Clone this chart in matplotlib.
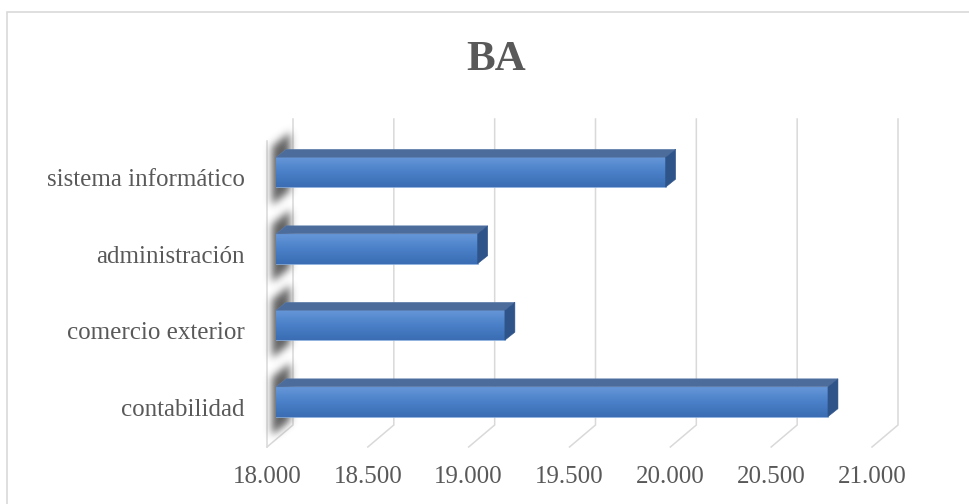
import numpy as np
import matplotlib
matplotlib.use("Agg")
import matplotlib.pyplot as plt
from matplotlib.patches import Polygon, Rectangle
from matplotlib.colors import LinearSegmentedColormap

# data (bottom to top)
categories = ["contabilidad", "comercio exterior", "administración", "sistema informático"]
values = [20737, 19135, 19000, 19932]
x_ticks = [18000, 18500, 19000, 19500, 20000, 20500, 21000]
title = "BA"

W, H = 970, 504
fig = plt.figure(figsize=(W / 100, H / 100), dpi=100)
plt.rcParams['font.family'] = ['Liberation Serif', 'DejaVu Serif']
text_col = '#595959'
grid_col = '#d9d9d9'

# axes = plane of the bar front faces
ax_l, ax_r, ax_top, ax_bot = 276, 881, 134, 440
ax = fig.add_axes([ax_l / W, (H - ax_bot) / H, (ax_r - ax_l) / W, (ax_bot - ax_top) / H])
xmin, xmax = x_ticks[0], x_ticks[-1]
ax.set_xlim(xmin, xmax)
ax.set_ylim(-0.5, len(categories) - 0.5)
ax.axis('off')

# pixel -> data unit helpers
px_x = (xmax - xmin) / (ax_r - ax_l)
px_y = len(categories) / (ax_bot - ax_top)

def off(x, y, dx, dy):
    # dx, dy in pixels (dy up)
    return (x + dx * px_x, y + dy * px_y)

back = (17, 15)    # back wall relative to bar plane
front = (-9, -7)   # front edge of floor
depth = (10, 8)    # bar depth

floor_y = -0.5
top_y = len(categories) - 0.5

# back wall gridlines + floor lines
for xt in x_ticks:
    p_top = off(xt, top_y, *back)
    p_bot = off(xt, floor_y, *back)
    p_front = off(xt, floor_y, *front)
    ax.plot([p_top[0], p_bot[0], p_front[0]], [p_top[1], p_bot[1], p_front[1]],
            color=grid_col, lw=1.1, clip_on=False, zorder=1, solid_joinstyle='miter')

# left wall front edge
p1 = off(xmin, top_y, *front)
p2 = off(xmin, floor_y, *front)
ax.plot([p1[0], p2[0]], [p1[1], p2[1]], color=grid_col, lw=1.1, clip_on=False, zorder=1)

bar_h = 0.39
bar_px = bar_h / px_y
pos = np.arange(len(categories))
bars = ax.barh(pos, [v - xmin for v in values], left=xmin, height=bar_h,
               color='#4a7fc4', edgecolor='#8cb0de', linewidth=0.5, zorder=4)

cmap = LinearSegmentedColormap.from_list('face', ['#6596d8', '#4a80c8', '#3a6db3'])
grad = np.linspace(0, 1, 64).reshape(-1, 1)

# blurred shadow of the bar end on the left wall
def blur(a, sigma):
    r = int(3 * sigma)
    k = np.exp(-0.5 * (np.arange(-r, r + 1) / sigma) ** 2)
    k /= k.sum()
    a = np.apply_along_axis(lambda m: np.convolve(m, k, mode='same'), 0, a)
    a = np.apply_along_axis(lambda m: np.convolve(m, k, mode='same'), 1, a)
    return a

gx = np.arange(-24, 36) + 0.5
gy = np.arange(-36, int(bar_px) + 50) + 0.5
GX, GY = np.meshgrid(gx, gy)
mask = ((GX >= -4) & (GX <= 14) &
        (GY >= -15 + 0.8 * GX) & (GY <= bar_px + 13 + 0.8 * GX)).astype(float)
sh_alpha = blur(mask, 4.0)
sh_alpha = np.clip(sh_alpha / sh_alpha.max() * 0.85, 0, 1)
shadow = np.zeros(mask.shape + (4,))
shadow[..., :3] = 0.28
shadow[..., 3] = sh_alpha[::-1]

for i, (b, v) in enumerate(zip(bars, values)):
    y0, y1 = pos[i] - bar_h / 2, pos[i] + bar_h / 2

    e0 = off(xmin, y0, gx[0] - 0.5, gy[0] - 0.5)
    e1 = off(xmin, y0, gx[-1] + 0.5, gy[-1] + 0.5)
    ax.imshow(shadow, aspect='auto', origin='upper', interpolation='bilinear',
              extent=(e0[0], e1[0], e0[1], e1[1]), zorder=2, clip_on=False)

    im = ax.imshow(grad, cmap=cmap, aspect='auto', origin='upper',
                   extent=(xmin, v, y0, y1), zorder=4.5)
    im.set_clip_path(b)

    # top face
    top = [(xmin, y1), (v, y1), off(v, y1, *depth), off(xmin, y1, *depth)]
    ax.add_patch(Polygon(top, closed=True, facecolor='#4c6c9c', edgecolor='#5b7bab',
                         linewidth=0.4, clip_on=False, zorder=5))
    # side face
    side = [(v, y0), (v, y1), off(v, y1, *depth), off(v, y0, *depth)]
    ax.add_patch(Polygon(side, closed=True, facecolor='#2f548a', edgecolor='#2f548a',
                         linewidth=0.4, clip_on=False, zorder=5))

ax.set_xlim(xmin, xmax)
ax.set_ylim(-0.5, len(categories) - 0.5)

# category labels (front plane)
for i, c in enumerate(categories):
    px, py = off(xmin, pos[i], -31, -8)
    ax.text(px, py, c, ha='right', va='center', fontsize=18, color=text_col, clip_on=False)

# x tick labels along front floor edge
for xt in x_ticks:
    px, py = off(xt, floor_y, *front)
    lbl = f"{xt:,.0f}".replace(",", ".")
    ax.text(px, py - 30 * px_y, lbl, ha='center', va='center', fontsize=18,
            color=text_col, clip_on=False)

fig.text(496 / W, (H - 60) / H, title, ha='center', va='center', fontsize=31,
         fontweight='bold', color=text_col)

# chart border
fig.patches.append(Rectangle((7 / W, -0.02), 1.0, (H - 12) / H + 0.02,
                             transform=fig.transFigure, fill=False,
                             edgecolor='#d9d9d9', linewidth=1.2))

fig.savefig('out.png', dpi=100)
